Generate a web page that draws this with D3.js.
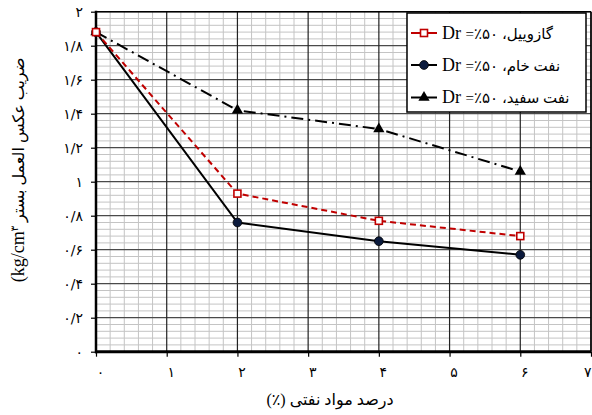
<!DOCTYPE html>
<html>
<head>
<meta charset="utf-8">
<script src="https://cdn.jsdelivr.net/npm/d3@7"></script>
<style>
  html, body { margin: 0; padding: 0; background: #fff; }
  svg { display: block; }
  text { font-family: "Liberation Serif", "DejaVu Sans", serif; fill: #000; }
</style>
</head>
<body>
<svg id="chart" width="592" height="415"></svg>
<script>
// Oil content (%) and subgrade reaction modulus (kg/cm3), Dr = 50%
const oilPercent = [0, 2, 4, 6];
const gasoil = [1.88, 0.93, 0.77, 0.68];
const crudeOil = [1.88, 0.76, 0.65, 0.57];
const kerosene = [1.88, 1.42, 1.31, 1.06];

const seriesNames = ["گازوییل", "نفت خام", "نفت سفید"];

const xTickValues = [0, 1, 2, 3, 4, 5, 6, 7];
const xTickLabels = ["۰", "۱", "۲", "۳", "۴", "۵", "۶", "۷"];
const yTickValues = [0, 0.2, 0.4, 0.6, 0.8, 1, 1.2, 1.4, 1.6, 1.8, 2];
const yTickLabels = ["۰", "۰/۲", "۰/۴", "۰/۶", "۰/۸", "۱", "۱/۲", "۱/۴", "۱/۶", "۱/۸", "۲"];

const xTitleWords = "درصد مواد نفتی";
const xTitleUnit = "(٪)";
const yTitle = "ضریب عکس العمل بستر";

const svg = d3.select("#chart");
const plotLeft = 96, plotRight = 591, plotTop = 11.7, plotBottom = 351.7;

const x = d3.scaleLinear().domain([0, 7]).range([plotLeft, plotRight]);
const y = d3.scaleLinear().domain([0, 2]).range([plotBottom, plotTop]);

// Grid: minor lines first, then major
const grid = svg.append("g");
grid.selectAll("line.vminor")
  .data(d3.range(0, 35).map(i => i * 0.2).filter((v, i) => i % 5 !== 0))
  .join("line")
  .attr("x1", d => x(d)).attr("x2", d => x(d))
  .attr("y1", plotTop).attr("y2", plotBottom)
  .attr("stroke", "#c4c4c4").attr("stroke-width", 1);
grid.selectAll("line.hminor")
  .data(d3.range(0, 50).map(i => i * 0.04).filter((v, i) => i % 5 !== 0))
  .join("line")
  .attr("x1", plotLeft).attr("x2", plotRight)
  .attr("y1", d => y(d)).attr("y2", d => y(d))
  .attr("stroke", "#c4c4c4").attr("stroke-width", 1);
grid.selectAll("line.hmajor")
  .data(yTickValues.slice(1))
  .join("line")
  .attr("x1", plotLeft).attr("x2", plotRight)
  .attr("y1", d => y(d)).attr("y2", d => y(d))
  .attr("stroke", "#4a4a4a").attr("stroke-width", 1.2);
grid.selectAll("line.vmajor")
  .data(xTickValues.slice(1))
  .join("line")
  .attr("x1", d => x(d)).attr("x2", d => x(d))
  .attr("y1", plotTop).attr("y2", plotBottom)
  .attr("stroke", "#222").attr("stroke-width", 1.2);

// Axes
const xAxis = d3.axisBottom(x).tickValues(xTickValues)
  .tickFormat((d, i) => xTickLabels[i]).tickSize(5).tickPadding(10);
const yAxis = d3.axisLeft(y).tickValues(yTickValues)
  .tickFormat((d, i) => yTickLabels[i]).tickSize(5).tickPadding(8);

const gx = svg.append("g").attr("transform", `translate(0,${plotBottom})`).call(xAxis);
const gy = svg.append("g").attr("transform", `translate(${plotLeft},0)`).call(yAxis);
[gx, gy].forEach(g => {
  g.select(".domain").remove();
  g.selectAll(".tick line").attr("stroke", "#000").attr("stroke-width", 1.2);
  g.selectAll(".tick text").style("font-family", "\"DejaVu Sans\", sans-serif").style("font-size", "14px");
});
gx.selectAll(".tick text").attr("dx", 4);
gx.selectAll(".tick text").filter((d, i, n) => i === n.length - 1)
  .attr("text-anchor", "end").attr("dx", 0);

// Plot frame
svg.append("line").attr("x1", plotLeft).attr("x2", plotRight).attr("y1", plotTop).attr("y2", plotTop)
  .attr("stroke", "#000").attr("stroke-width", 1.5);
svg.append("line").attr("x1", plotRight).attr("x2", plotRight).attr("y1", plotTop).attr("y2", plotBottom)
  .attr("stroke", "#000").attr("stroke-width", 1.5);
svg.append("line").attr("x1", plotLeft).attr("x2", plotLeft).attr("y1", plotTop - 1).attr("y2", plotBottom + 1.5)
  .attr("stroke", "#000").attr("stroke-width", 2.5);
svg.append("line").attr("x1", plotLeft - 1).attr("x2", plotRight).attr("y1", plotBottom).attr("y2", plotBottom)
  .attr("stroke", "#000").attr("stroke-width", 3);

// Series
const line = d3.line().x((d, i) => x(oilPercent[i])).y(d => y(d));
const series = [
  { name: seriesNames[0], values: gasoil, color: "#c00000", dash: "6,4", marker: "square" },
  { name: seriesNames[1], values: crudeOil, color: "#000", dash: null, marker: "circle" },
  { name: seriesNames[2], values: kerosene, color: "#000", dash: "12,5,2,5", marker: "triangle" }
];

function drawMarker(g, type, cx, cy, color) {
  if (type === "square") {
    g.append("rect").attr("x", cx - 3.5).attr("y", cy - 3.5).attr("width", 7).attr("height", 7)
      .attr("fill", "#fff").attr("stroke", color).attr("stroke-width", 1.6);
  } else if (type === "circle") {
    g.append("circle").attr("cx", cx).attr("cy", cy).attr("r", 4.4)
      .attr("fill", "#0b1a3c").attr("stroke", "#000").attr("stroke-width", 0.8);
  } else {
    g.append("path").attr("d", d3.symbol(d3.symbolTriangle, 55)())
      .attr("transform", `translate(${cx},${cy})`).attr("fill", "#000");
  }
}

const plot = svg.append("g");
series.slice().reverse().forEach(s => {
  plot.append("path").datum(s.values).attr("d", line)
    .attr("fill", "none").attr("stroke", s.color).attr("stroke-width", 2)
    .attr("stroke-dasharray", s.dash);
});
series.slice().reverse().forEach(s => {
  s.values.forEach((v, i) => drawMarker(plot, s.marker, x(oilPercent[i]), y(v), s.color));
});

// Legend
const legend = svg.append("g");
legend.append("rect").attr("x", 407).attr("y", 13).attr("width", 179).attr("height", 99)
  .attr("fill", "#fff").attr("stroke", "#000").attr("stroke-width", 1.5);
const rowY = [33, 65, 97.5];
series.forEach((s, i) => {
  const cy = rowY[i];
  legend.append("line").attr("x1", 411).attr("x2", 437).attr("y1", cy).attr("y2", cy)
    .attr("stroke", s.color).attr("stroke-width", 2);
  drawMarker(legend, s.marker, 424, cy, s.color);
  const t = legend.append("text").attr("x", 442).attr("y", cy + 5.5);
  t.append("tspan").style("font-size", "18px").text("Dr ");
  t.append("tspan").style("font-size", "15px").text("=٪۵۰ ،" + s.name);
});

// Axis titles
const xt = svg.append("text")
  .attr("x", 330).attr("y", 405)
  .attr("text-anchor", "middle")
  .style("font-size", "16px");
xt.text(xTitleUnit + " " + xTitleWords);

const yt = svg.append("text")
  .attr("transform", "translate(24,170) rotate(-90)")
  .attr("text-anchor", "middle")
  .style("font-size", "16px");
yt.append("tspan").style("font-size", "18px").text("(kg/cm");
yt.append("tspan").attr("dy", -6).style("font-size", "10px").text("۳");
yt.append("tspan").attr("dy", 6).text(" " + yTitle);
</script>
</body>
</html>
